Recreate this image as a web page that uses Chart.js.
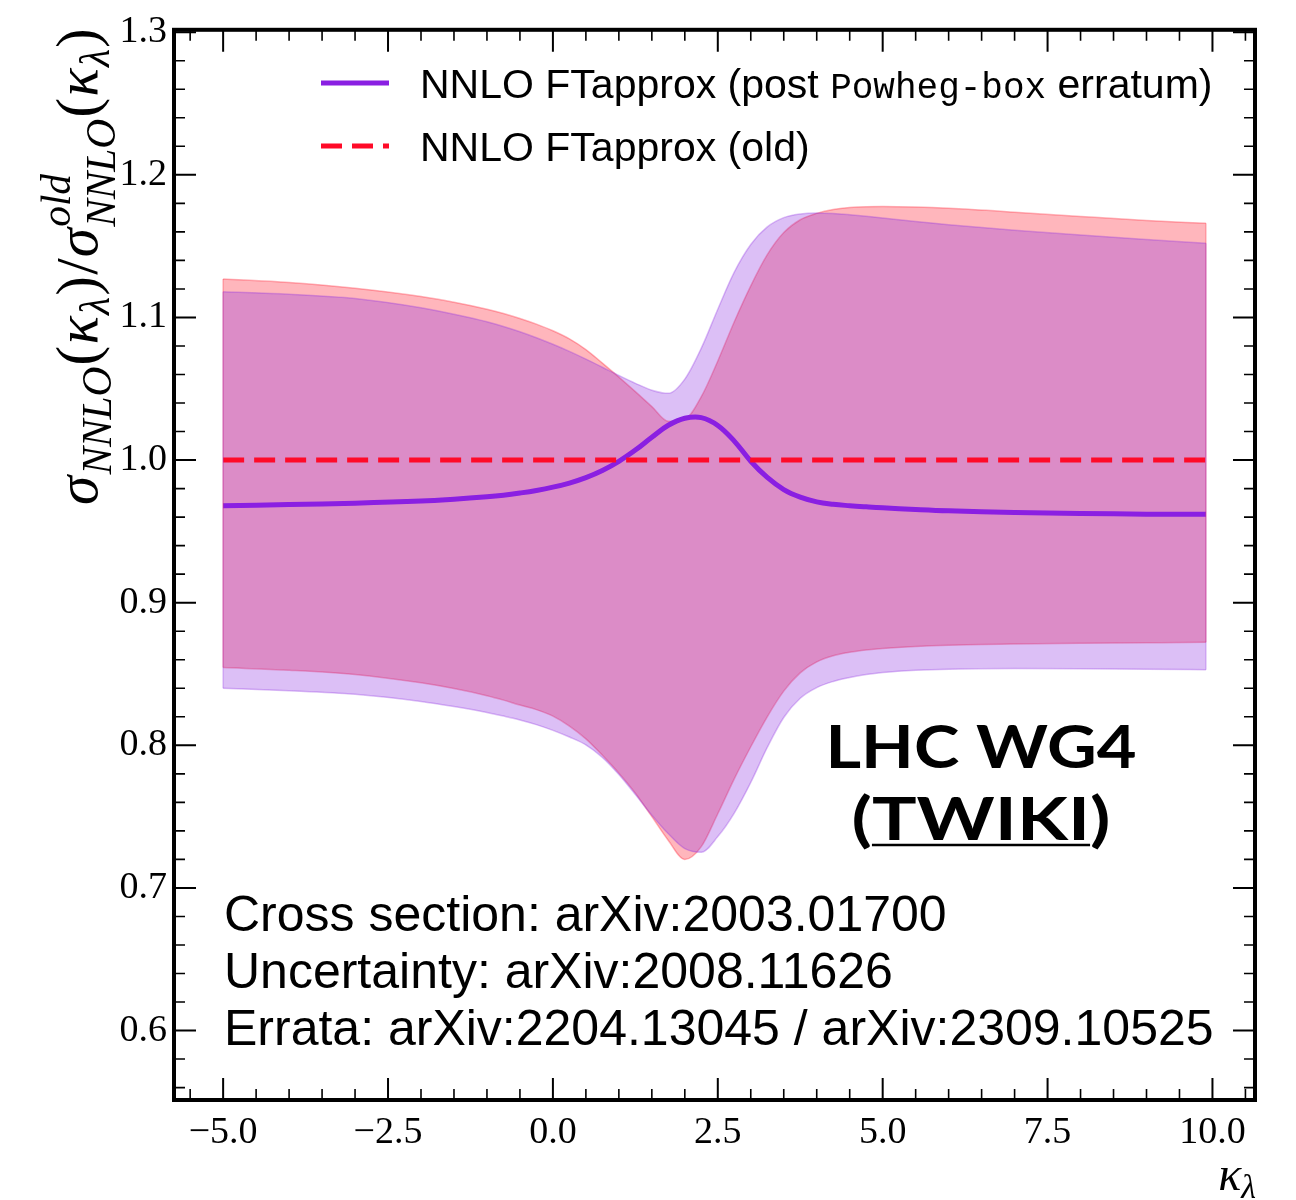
<!DOCTYPE html>
<html>
<head>
<meta charset="utf-8">
<script src="https://cdn.jsdelivr.net/npm/chart.js@4.4.1/dist/chart.umd.min.js"></script>
<style>
  body { margin: 0; background: #fff; }
</style>
</head>
<body>
<canvas id="grafica" width="1296" height="1200"></canvas>
<script>
// Valores
var kappa = [-5, -4, -3, -2, -1.5, -1, -0.75, -0.5, -0.25, 0, 0.25, 0.5, 0.75, 1, 1.25, 1.5, 1.75, 2, 2.25, 2.5, 2.75, 3, 3.25, 3.5, 3.75, 4, 4.25, 4.5, 4.75, 5, 5.5, 6, 7, 8, 9, 9.9];

var nuevoCentral = [0.968, 0.9688, 0.9698, 0.9713, 0.9726, 0.9743, 0.9754, 0.9769, 0.9787, 0.9810, 0.9839, 0.9877, 0.9927, 0.9991, 1.0070, 1.0160, 1.0244, 1.0293, 1.0298, 1.0243, 1.0133, 0.9992, 0.9878, 0.9793, 0.9740, 0.9707, 0.9690, 0.9680, 0.9672, 0.9665, 0.9654, 0.9645, 0.9633, 0.9626, 0.9621, 0.962];
var nuevoArriba = [1.118, 1.1163, 1.1133, 1.1068, 1.1023, 1.0970, 1.0937, 1.0900, 1.0858, 1.0812, 1.0762, 1.0708, 1.0651, 1.0593, 1.0538, 1.0490, 1.0468, 1.0568, 1.0785, 1.1058, 1.1318, 1.1512, 1.1635, 1.1700, 1.1726, 1.1733, 1.1729, 1.1720, 1.1709, 1.1697, 1.1672, 1.1650, 1.1612, 1.1578, 1.1547, 1.152];
var nuevoAbajo = [0.8400, 0.8383, 0.8358, 0.8308, 0.8272, 0.8230, 0.8205, 0.8178, 0.8145, 0.8105, 0.8058, 0.8003, 0.7915, 0.7795, 0.7655, 0.7510, 0.7380, 0.7275, 0.7250, 0.7360, 0.7525, 0.7740, 0.7985, 0.8195, 0.8330, 0.8405, 0.8448, 0.8476, 0.8496, 0.8510, 0.8526, 0.8534, 0.8538, 0.8537, 0.8534, 0.853];

var viejoArriba = [1.127, 1.1245, 1.1205, 1.1147, 1.1107, 1.1058, 1.1028, 1.0993, 1.0953, 1.0907, 1.0850, 1.0775, 1.0680, 1.0582, 1.0480, 1.0375, 1.0272, 1.0285, 1.0445, 1.0695, 1.0970, 1.1222, 1.1440, 1.1595, 1.1685, 1.1730, 1.1757, 1.1771, 1.1777, 1.1778, 1.1774, 1.1765, 1.1738, 1.1708, 1.1680, 1.166];
var viejoAbajo = [0.8545, 0.8527, 0.8497, 0.8438, 0.8398, 0.8348, 0.8317, 0.8282, 0.8250, 0.8205, 0.8135, 0.8045, 0.7930, 0.7805, 0.7665, 0.7500, 0.7333, 0.7200, 0.7290, 0.7520, 0.7765, 0.7990, 0.8200, 0.8380, 0.8508, 0.8585, 0.8628, 0.8652, 0.8668, 0.8679, 0.8693, 0.8702, 0.8711, 0.8716, 0.8719, 0.8722];

var viejoCentralX = [-5, 9.9];
var viejoCentral = [1.0, 1.0];

var xTicks = [-5, -2.5, 0, 2.5, 5, 7.5, 10];
var xMenores = [-5.5, -4.5, -4, -3.5, -3, -2, -1.5, -1, -0.5, 0.5, 1, 1.5, 2, 3, 3.5, 4, 4.5, 5.5, 6, 6.5, 7, 8, 8.5, 9, 9.5, 10.5];
var yTicks = [0.6, 0.7, 0.8, 0.9, 1.0, 1.1, 1.2, 1.3];
var yMenores = [0.56, 0.58, 0.62, 0.64, 0.66, 0.68, 0.72, 0.74, 0.76, 0.78, 0.82, 0.84, 0.86, 0.88, 0.92, 0.94, 0.96, 0.98, 1.02, 1.04, 1.06, 1.08, 1.12, 1.14, 1.16, 1.18, 1.22, 1.24, 1.26, 1.28];

var etiquetaNueva = ["NNLO FTapprox (post ", "Powheg-box", " erratum)"];
var etiquetaVieja = "NNLO FTapprox (old)";
var notas = ["Cross section: arXiv:2003.01700", "Uncertainty: arXiv:2008.11626", "Errata: arXiv:2204.13045 / arXiv:2309.10525"];

var MORADO = "#8a1fe2";
var ROJO = "#ff0a28";
var MORADO_BANDA = "rgba(138, 43, 226, 0.3)";
var ROJO_BANDA = "rgba(255, 12, 32, 0.3)";

function puntos(xs, ys) {
  return xs.map((x, i) => ({ x: x, y: ys[i] }));
}

function formato(v) {
  var s = Math.abs(v).toFixed(1);
  return v < 0 ? "\u2212" + s : s;
}

// Texto estirado a un ancho dado
function textoAncho(ctx, t, cx, y, ancho) {
  var w = ctx.measureText(t).width;
  var f = ancho / w;
  ctx.save();
  ctx.translate(cx, y);
  ctx.scale(f, 1);
  ctx.textAlign = "center";
  ctx.fillText(t, 0, 0);
  ctx.restore();
  return f;
}

// Titulo del eje y con subindices
function tituloY(ctx) {
  var M = 48;
  var segs = [
    { t: "σ", k: 1, it: true }, { t: "NNLO", k: 0.7, it: true, dy: 0.24 },
    { t: "(", k: 1 }, { t: "κ", k: 1, it: true }, { t: "λ", k: 0.7, it: true, dy: 0.2 }, { t: ")", k: 1 },
    { t: "/", k: 1 },
    { t: "σ", k: 1, it: true }, { t: "NNLO", k: 0.7, it: true, dy: 0.3, sup: "old" },
    { t: "(", k: 1 }, { t: "κ", k: 1, it: true }, { t: "λ", k: 0.7, it: true, dy: 0.2 }, { t: ")", k: 1 }
  ];
  function fuente(s) {
    return (s.it ? "italic " : "") + M * s.k + "px 'Liberation Serif'";
  }
  var total = 0;
  segs.forEach((s) => {
    ctx.font = fuente(s);
    s.w = ctx.measureText(s.t).width;
    if (s.sup) s.w = Math.max(s.w, ctx.measureText(s.sup).width);
    total += s.w + 1;
  });
  var f = 478 / total;
  ctx.save();
  ctx.translate(97, 505);
  ctx.rotate(-Math.PI / 2);
  ctx.scale(f, f);
  ctx.fillStyle = "#000";
  ctx.textBaseline = "alphabetic";
  ctx.textAlign = "left";
  var x = 0;
  segs.forEach((s) => {
    ctx.font = fuente(s);
    ctx.fillText(s.t, x, (s.dy || 0) * M);
    if (s.sup) ctx.fillText(s.sup, x, -0.45 * M);
    x += s.w + 1;
  });
  ctx.restore();
}

var decoracion = {
  id: "decoracion",
  afterDatasetsDraw(chart) {
    var ctx = chart.ctx;
    var xs = chart.scales.x, ys = chart.scales.y;
    // bordes verticales de las bandas
    ctx.save();
    ctx.lineWidth = 1.5;
    [[viejoArriba, viejoAbajo, ROJO_BANDA], [nuevoArriba, nuevoAbajo, MORADO_BANDA]].forEach((b) => {
      ctx.strokeStyle = b[2];
      [0, kappa.length - 1].forEach((i) => {
        var px = xs.getPixelForValue(kappa[i]);
        ctx.beginPath();
        ctx.moveTo(px, ys.getPixelForValue(b[0][i]));
        ctx.lineTo(px, ys.getPixelForValue(b[1][i]));
        ctx.stroke();
      });
    });
    ctx.restore();
  },
  afterDraw(chart) {
    var ctx = chart.ctx;
    var a = chart.chartArea;
    var xs = chart.scales.x, ys = chart.scales.y;
    ctx.save();
    ctx.strokeStyle = "#000";

    // marcas hacia adentro en los cuatro lados
    function marcaX(v, largo, ancho) {
      var px = xs.getPixelForValue(v);
      ctx.lineWidth = ancho;
      ctx.beginPath();
      ctx.moveTo(px, a.bottom); ctx.lineTo(px, a.bottom - largo);
      ctx.moveTo(px, a.top); ctx.lineTo(px, a.top + largo);
      ctx.stroke();
    }
    function marcaY(v, largo, ancho) {
      var py = ys.getPixelForValue(v);
      ctx.lineWidth = ancho;
      ctx.beginPath();
      ctx.moveTo(a.left, py); ctx.lineTo(a.left + largo, py);
      ctx.moveTo(a.right, py); ctx.lineTo(a.right - largo, py);
      ctx.stroke();
    }
    xTicks.forEach((v) => marcaX(v, 22, 2));
    xMenores.forEach((v) => marcaX(v, 11, 1.6));
    yTicks.forEach((v) => marcaY(v, 22, 2));
    yMenores.forEach((v) => marcaY(v, 11, 1.6));

    ctx.lineWidth = 4;
    ctx.strokeRect(a.left, a.top, a.right - a.left, a.bottom - a.top);

    // leyenda
    ctx.lineCap = "butt";
    ctx.lineWidth = 5;
    ctx.strokeStyle = MORADO;
    ctx.beginPath(); ctx.moveTo(321, 83); ctx.lineTo(389, 83); ctx.stroke();
    ctx.strokeStyle = ROJO;
    ctx.setLineDash([21, 10]);
    ctx.beginPath(); ctx.moveTo(321, 146); ctx.lineTo(389, 146); ctx.stroke();
    ctx.setLineDash([]);

    ctx.fillStyle = "#000";
    ctx.textBaseline = "alphabetic";
    ctx.textAlign = "left";
    var x = 420;
    ctx.font = "41px 'Liberation Sans'";
    ctx.fillText(etiquetaNueva[0], x, 98);
    x += ctx.measureText(etiquetaNueva[0]).width;
    ctx.font = "36px 'Liberation Mono'";
    ctx.fillText(etiquetaNueva[1], x, 98);
    x += ctx.measureText(etiquetaNueva[1]).width;
    ctx.font = "41px 'Liberation Sans'";
    ctx.fillText(etiquetaNueva[2], x, 98);
    ctx.fillText(etiquetaVieja, 420, 161);

    // referencias
    ctx.font = "50px 'Liberation Sans'";
    notas.forEach((t, i) => ctx.fillText(t, 224, 931 + i * 57));

    // LHC WG4 (TWIKI)
    ctx.font = "bold 59px Lato";
    textoAncho(ctx, "LHC WG4", 981, 768, 311);
    var f = textoAncho(ctx, "(TWIKI)", 981, 840, 259);
    var wPar = ctx.measureText("(").width * f;
    var wTw = ctx.measureText("TWIKI").width * f;
    var x0 = 981 - 259 / 2 + wPar;
    ctx.lineWidth = 2.5;
    ctx.strokeStyle = "#000";
    ctx.beginPath(); ctx.moveTo(x0, 845); ctx.lineTo(x0 + wTw, 845); ctx.stroke();

    // titulo eje x
    ctx.textAlign = "left";
    ctx.font = "italic 34px 'Liberation Serif'";
    var wl = ctx.measureText("λ").width;
    ctx.fillText("λ", 1256 - wl, 1198);
    ctx.font = "italic 48px 'Liberation Serif'";
    var wk = ctx.measureText("κ").width;
    ctx.fillText("κ", 1256 - wl - wk, 1190);

    ctx.restore();
    tituloY(ctx);
  }
};

new Chart(document.getElementById("grafica").getContext("2d"), {
  type: "line",
  data: {
    datasets: [
      { data: puntos(kappa, viejoArriba), fill: "+1", backgroundColor: ROJO_BANDA, borderColor: ROJO_BANDA, borderWidth: 1.5, order: 5 },
      { data: puntos(kappa, viejoAbajo), fill: false, borderColor: ROJO_BANDA, borderWidth: 1.5, order: 5 },
      { data: puntos(kappa, nuevoArriba), fill: "+1", backgroundColor: MORADO_BANDA, borderColor: MORADO_BANDA, borderWidth: 1.5, order: 4 },
      { data: puntos(kappa, nuevoAbajo), fill: false, borderColor: MORADO_BANDA, borderWidth: 1.5, order: 4 },
      { data: puntos(kappa, nuevoCentral), fill: false, borderColor: MORADO, borderWidth: 5, order: 2, cubicInterpolationMode: "default", tension: 0.4 },
      { data: puntos(viejoCentralX, viejoCentral), fill: false, borderColor: ROJO, borderWidth: 5, borderDash: [21, 10], borderCapStyle: "butt", order: 1 }
    ]
  },
  options: {
    responsive: false,
    animation: false,
    layout: { padding: { left: 0, right: 41, top: 25, bottom: 0 } },
    elements: { point: { radius: 0 }, line: { cubicInterpolationMode: "monotone" } },
    plugins: { legend: { display: false }, tooltip: { enabled: false } },
    scales: {
      x: {
        type: "linear",
        min: -5.745,
        max: 10.645,
        grid: { display: false, drawTicks: false },
        border: { display: false },
        afterFit: (s) => { s.height = 100; },
        afterBuildTicks: (s) => { s.ticks = xTicks.map((v) => ({ value: v })); },
        ticks: { color: "#000", padding: 10, maxRotation: 0, autoSkip: false, font: { family: "'Liberation Serif'", size: 38 }, callback: (v) => formato(v) }
      },
      y: {
        type: "linear",
        min: 0.5513,
        max: 1.3017,
        grid: { display: false, drawTicks: false },
        border: { display: false },
        afterFit: (s) => { s.width = 174; },
        afterBuildTicks: (s) => { s.ticks = yTicks.map((v) => ({ value: v })); },
        ticks: { color: "#000", padding: 7, autoSkip: false, font: { family: "'Liberation Serif'", size: 38 }, callback: (v) => formato(v) }
      }
    }
  },
  plugins: [decoracion]
});
</script>
</body>
</html>
